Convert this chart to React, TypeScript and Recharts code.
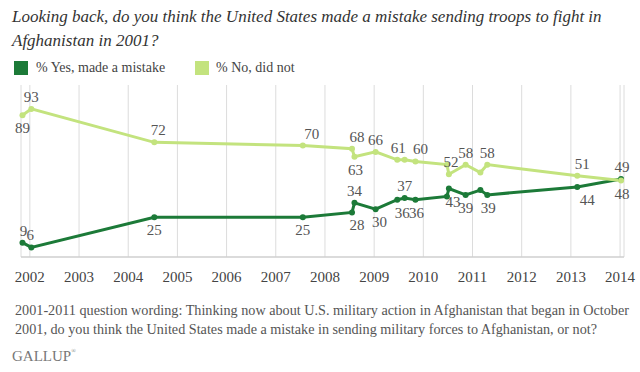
import React from "react";
import { LineChart, Line, XAxis, YAxis, CartesianGrid } from "recharts";

// Survey dates (decimal years)
const surveyDates = [
  2001.85, 2002.03, 2004.53, 2007.55, 2008.55, 2008.6, 2009.03, 2009.47, 2009.62,
  2009.84, 2010.48, 2010.52, 2010.86, 2011.16, 2011.3, 2013.13, 2014.02,
];
// % Yes, made a mistake
const yesValues = [9, 6, 25, 25, 28, 34, 30, 36, 37, 36, 38, 43, 39, 42, 39, 44, 49];
// % No, did not
const noValues = [89, 93, 72, 70, 68, 63, 66, 61, 61, 60, 58, 52, 58, 53, 58, 51, 48];

const yearTicks = [2002, 2003, 2004, 2005, 2006, 2007, 2008, 2009, 2010, 2011, 2012, 2013, 2014];

// label placement: a = above, b = below, n = none
const yesLabelPlace = ["a", "a", "b", "b", "b", "a", "b", "b", "a", "b", "n", "b", "b", "n", "b", "b", "a"];
const noLabelPlace = ["b", "a", "a", "a", "a", "b", "a", "a", "n", "a", "n", "a", "a", "n", "a", "a", "b"];
const yesLabelShift = [1, -1, 0, 0, 5, 0, 4, 5, 0, 1, 0, 4, 0, 0, 1, 10, 1];
const noLabelShift = [0, 0, 4, 9, 5, 1, 0, 1, 0, 5, 0, 2, 0, 0, 0, 5, 1];

const data = surveyDates.map((d, i) => ({ date: d, yes: yesValues[i], no: noValues[i] }));

const DARK = "#1c7a38";
const LIGHT = "#c3e37e";
const SERIF = "'Liberation Serif', 'DejaVu Serif', serif";

function makeDot(color: string, place: string[], shift: number[]) {
  return (props: any) => {
    const { cx, cy, index, value } = props;
    const p = place[index];
    const v = Array.isArray(value) ? value[1] : value;
    return (
      <g key={`d-${color}-${index}`}>
        <circle cx={cx} cy={cy} r={3} fill={color} stroke="none" />
        {p !== "n" && (
          <text
            x={cx + shift[index]}
            y={p === "a" ? cy - 7 : cy + 18}
            textAnchor="middle"
            style={{ fontFamily: SERIF, fontSize: 15 }}
            fill="#555"
          >
            {v}
          </text>
        )}
      </g>
    );
  };
}

const YearTick = (props: any) => {
  const { x, y, payload } = props;
  return (
    <text x={x} y={y + 17} textAnchor="middle" fill="#444" style={{ fontFamily: SERIF, fontSize: 15 }}>
      {payload.value}
    </text>
  );
};

export default function App() {
  return (
    <div style={{ position: "absolute", left: 0, top: 0, width: 640, height: 372, background: "#fff", fontFamily: SERIF }}>
      <div
        style={{
          position: "absolute",
          left: 12,
          top: 5,
          width: 620,
          fontSize: 17,
          lineHeight: "24px",
          fontStyle: "italic",
          color: "#333",
          fontFamily: SERIF,
        }}
      >
        Looking back, do you think the United States made a mistake sending troops to fight in
        <br />
        Afghanistan in 2001?
      </div>
      <div style={{ position: "absolute", left: 14, top: 61, width: 14, height: 14, background: DARK }} />
      <div style={{ position: "absolute", left: 36, top: 60, fontSize: 14, color: "#444", whiteSpace: "nowrap", fontFamily: SERIF }}>
        % Yes, made a mistake
      </div>
      <div style={{ position: "absolute", left: 195, top: 61, width: 14, height: 14, background: LIGHT }} />
      <div style={{ position: "absolute", left: 216, top: 60, fontSize: 14, color: "#444", whiteSpace: "nowrap", fontFamily: SERIF }}>
        % No, did not
      </div>
      <div style={{ position: "absolute", left: 0, top: 0 }}>
        <LineChart width={640} height={372} data={data} margin={{ top: 85, right: 16, bottom: 85, left: 21 }}>
          <CartesianGrid horizontal={false} stroke="#dcdcdc" strokeWidth={1} />
          <XAxis
            dataKey="date"
            type="number"
            domain={[2001.82, 2014.08]}
            ticks={yearTicks}
            tickLine={false}
            axisLine={{ stroke: "#cfcfcf", strokeWidth: 1.5 }}
            height={30}
            tick={<YearTick />}
          />
          <YAxis hide domain={[0, 108]} type="number" />
          <Line
            dataKey="yes"
            stroke={DARK}
            strokeWidth={3}
            dot={makeDot(DARK, yesLabelPlace, yesLabelShift)}
            activeDot={false}
            isAnimationActive={false}
          />
          <Line
            dataKey="no"
            stroke={LIGHT}
            strokeWidth={3}
            dot={makeDot(LIGHT, noLabelPlace, noLabelShift)}
            activeDot={false}
            isAnimationActive={false}
          />
        </LineChart>
      </div>
      <div
        style={{
          position: "absolute",
          left: 15,
          top: 301,
          width: 625,
          fontSize: 14.2,
          lineHeight: "19px",
          color: "#555",
          whiteSpace: "nowrap",
          fontFamily: SERIF,
        }}
      >
        2001-2011 question wording: Thinking now about U.S. military action in Afghanistan that began in October
        <br />
        2001, do you think the United States made a mistake in sending military forces to Afghanistan, or not?
      </div>
      <div style={{ position: "absolute", left: 12, top: 348, fontSize: 15, color: "#777", whiteSpace: "nowrap", fontFamily: SERIF }}>
        GALLUP<span style={{ fontSize: 6, verticalAlign: "top" }}>®</span>
      </div>
    </div>
  );
}
